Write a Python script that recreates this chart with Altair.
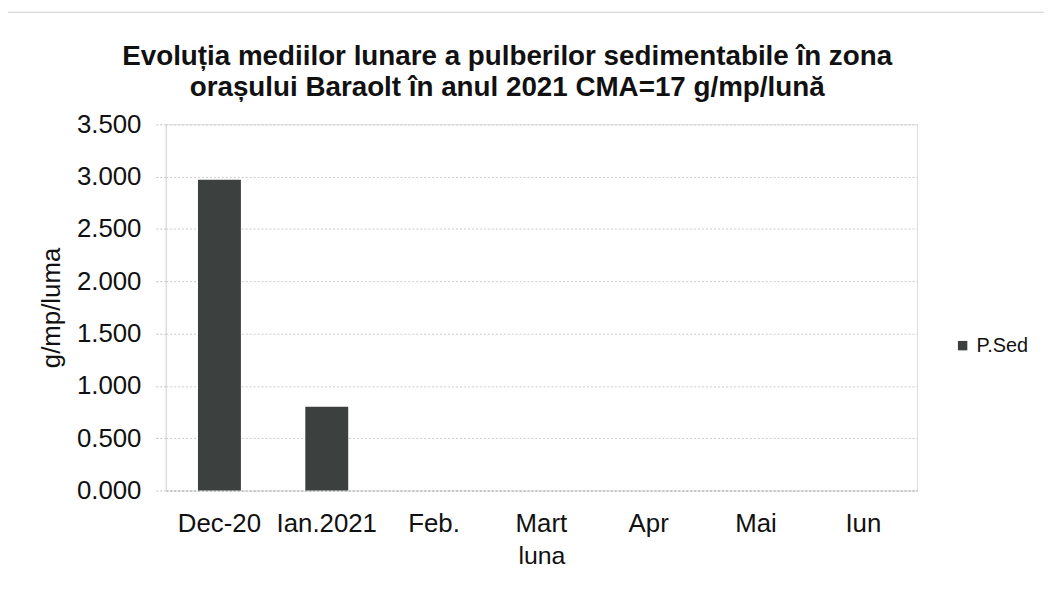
import altair as alt
import pandas as pd

months = ["Dec-20", "Ian.2021", "Feb.", "Mart", "Apr", "Mai", "Iun"]
p_sed = [2.97, 0.80, None, None, None, None, None]
series = "P.Sed"

title_lines = [
    "Evoluția mediilor lunare a pulberilor sedimentabile în zona",
    "orașului Baraolt în anul 2021 CMA=17 g/mp/lună",
]

df = pd.DataFrame({"luna": months, "val": p_sed, "serie": [series] * len(months)})

W, H = 757, 369
FONT = "Liberation Sans"

bars = alt.Chart(df).mark_bar(color="#3c403e").encode(
    x=alt.X(
        "luna:N",
        sort=months,
        title="luna",
        scale=alt.Scale(paddingInner=0.6, paddingOuter=0.3),
        axis=alt.Axis(
            labelAngle=0,
            labelFontSize=26,
            labelColor="#111111",
            labelPadding=20,
            ticks=False,
            domainColor="#b0b0b0",
            domainDash=[2, 2],
            titleFontSize=25,
            titleFontWeight="normal",
            titleColor="#111111",
            titlePadding=8,
            grid=False,
        ),
    ),
    y=alt.Y(
        "val:Q",
        title="g/mp/luma",
        scale=alt.Scale(domain=[0, 3.5], nice=False),
        axis=alt.Axis(
            values=[0, 0.5, 1.0, 1.5, 2.0, 2.5, 3.0, 3.5],
            format=".3f",
            labelFontSize=26,
            labelColor="#111111",
            labelPadding=15,
            tickSize=10,
            tickColor="#c0c0c0",
            tickDash=[2, 2],
            domainColor="#d8d8d8",
            gridColor="#cccccc",
            gridDash=[2, 2],
            titleFontSize=26,
            titleFontWeight="normal",
            titleColor="#111111",
            titlePadding=12,
        ),
    ),
    color=alt.Color(
        "serie:N",
        scale=alt.Scale(domain=[series], range=["#3c403e"]),
        legend=alt.Legend(
            title=None,
            orient="none",
            legendX=793,
            legendY=213,
            symbolType="square",
            symbolSize=90,
            symbolStrokeWidth=0,
            labelFontSize=20,
            labelColor="#111111",
            labelFont=FONT,
        ),
    ),
)

title_text = alt.Chart(pd.DataFrame({"t": [1]})).mark_text(
    text=title_lines,
    font=FONT,
    fontSize=28,
    fontWeight="bold",
    color="#111111",
    lineHeight=31,
    align="center",
    baseline="alphabetic",
    clip=False,
).encode(x=alt.value(344), y=alt.value(-60))

border = alt.Chart(pd.DataFrame({"b": [1]})).mark_rect(
    fill=None, stroke="#cfcfcf", strokeWidth=1.2, clip=False
).encode(
    x=alt.value(-163), x2=alt.value(900), y=alt.value(-113), y2=alt.value(473)
)

chart = (
    alt.layer(border, bars, title_text)
    .properties(
        width=W,
        height=H,
        padding={"left": 159, "top": 115, "right": 128, "bottom": 100},
        autosize=alt.AutoSizeParams(type="none"),
    )
    .configure_view(stroke=None)
    .configure(font=FONT, background="white")
)

chart.save("out.html", embed_options={"renderer": "svg", "actions": False})
